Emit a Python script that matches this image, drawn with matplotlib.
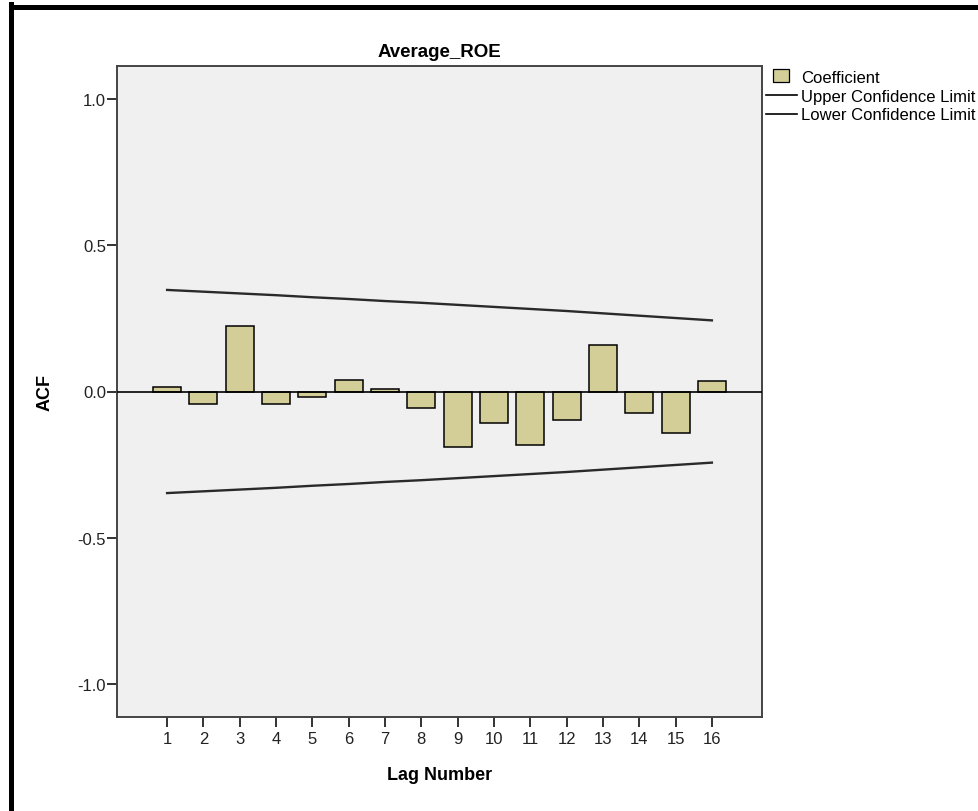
import matplotlib
matplotlib.use("Agg")

import matplotlib.pyplot as plt
import numpy as np
from matplotlib.lines import Line2D
from matplotlib.patches import Patch, Rectangle
from matplotlib.legend_handler import HandlerPatch

plt.rcParams.update({"font.family": ["Liberation Sans", "DejaVu Sans"]})

# ACF coefficients
lags = list(range(1, 17))
acf = [0.016, -0.043, 0.223, -0.043, -0.018, 0.040, 0.008, -0.055,
       -0.190, -0.108, -0.184, -0.098, 0.160, -0.073, -0.142, 0.036]
upper = [0.347, 0.341, 0.335, 0.329, 0.322, 0.316, 0.309, 0.303,
         0.296, 0.289, 0.282, 0.275, 0.267, 0.259, 0.251, 0.243]
lower = [-u for u in upper]
yticks = [-1.0, -0.5, 0.0, 0.5, 1.0]

BAR = "#D3CE97"
BG = "#F0F0F0"


class SquareHandler(HandlerPatch):
    # small square swatch like SPSS, not a full-width bar (units are points)
    def create_artists(self, legend, orig_handle, xdescent, ydescent,
                       width, height, fontsize, trans):
        w, h = 11.5, 9.4
        r = Rectangle((5 - xdescent, -ydescent + height / 2 - h / 2 + 0.5), w, h,
                      facecolor=orig_handle.get_facecolor(),
                      edgecolor="black", lw=0.9, transform=trans)
        return [r]


fig = plt.figure(figsize=(9.79, 8.12), dpi=100)
ax = fig.add_axes([117 / 979, 1 - 718 / 812, 645 / 979, 651 / 812])
ax.set_facecolor(BG)

ax.bar(lags, acf, width=0.77, color=BAR, edgecolor="black", lw=1.1, zorder=2)
ax.axhline(0, color="black", lw=1.2, zorder=3)
ax.plot(lags, upper, color="#2a2a2a", lw=1.7, zorder=3)
ax.plot(lags, lower, color="#2a2a2a", lw=1.7, zorder=3)

ax.set_xlim(-0.38, 17.38)
ax.set_ylim(-1.112, 1.112)
ax.set_xticks(lags)
ax.set_yticks(yticks)
ax.set_yticklabels([f"{v:.1f}" for v in yticks])
ax.tick_params(axis="both", labelsize=12, colors="#222222", width=1.3)
ax.tick_params(axis="x", length=7, pad=3)
ax.tick_params(axis="y", length=7, pad=1)
for s in ax.spines.values():
    s.set_color("#444444")
    s.set_linewidth(1.4)

ax.set_title("Average_ROE", fontsize=13.5, fontweight="bold", pad=7)
ax.set_ylabel("ACF", fontsize=13, fontweight="bold", va="center")
ax.yaxis.set_label_coords(-72 / 645, 0.5)
ax.set_xlabel("Lag Number", fontsize=13, fontweight="bold", va="center")
ax.xaxis.set_label_coords(0.5, -58 / 651)

handles = [Patch(facecolor=BAR, edgecolor="black"),
           Line2D([], [], color="black", lw=1.2),
           Line2D([], [], color="black", lw=1.2)]
labels = ["Coefficient", "Upper Confidence Limit", "Lower Confidence Limit"]
fig.legend(handles, labels, loc="upper left", bbox_to_anchor=(766 / 979, 1 - 71 / 812),
           frameon=False, fontsize=12, handlelength=1.85, handletextpad=0.25,
           labelspacing=0.22, borderpad=0, borderaxespad=0,
           handler_map={Patch: SquareHandler()})

# black frame of the original screenshot (left and top edges only)
fig.add_artist(Line2D([10.8 / 979, 10.8 / 979], [0, 1 - 5 / 812], color="black", lw=3.6,
                      transform=fig.transFigure, solid_capstyle="projecting"))
fig.add_artist(Line2D([10.8 / 979, 1], [1 - 7.5 / 812, 1 - 7.5 / 812], color="black", lw=3.6,
                      transform=fig.transFigure, solid_capstyle="projecting"))

fig.savefig("out.png", dpi=100, facecolor="white")
